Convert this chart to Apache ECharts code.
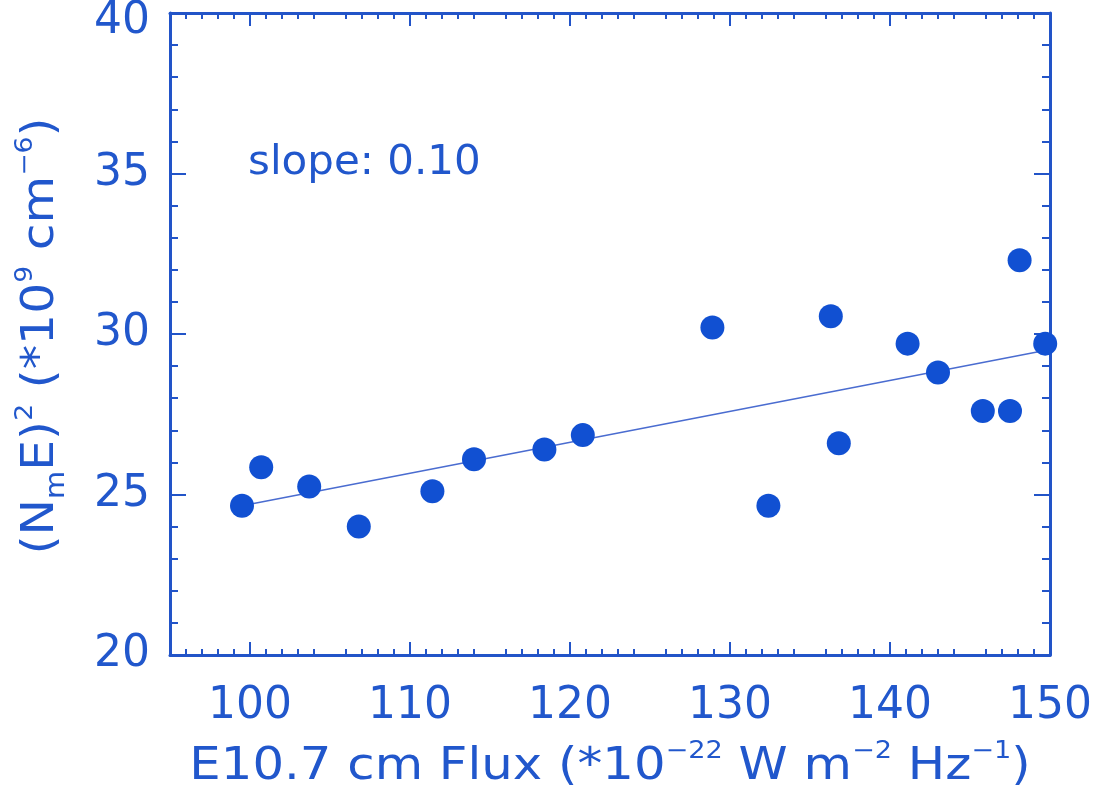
<!DOCTYPE html>
<html>
<head>
<meta charset="utf-8">
<title>NmE squared vs F10.7</title>
<script src="https://cdn.jsdelivr.net/npm/echarts@6/dist/echarts.min.js"></script>
<style>
  html, body { margin: 0; padding: 0; background: #fff; }
  #chart { width: 1094px; height: 796px; }
</style>
</head>
<body>
<div id="chart"></div>
<script>
const fluxX = [99.5, 100.7, 103.7, 106.8, 111.4, 114.0, 118.4, 120.8, 128.9, 132.4,
               136.3, 136.8, 141.1, 143.0, 145.8, 147.5, 148.1, 149.7];
const nmE2 = [24.65, 25.85, 25.25, 24.0, 25.1, 26.1, 26.4, 26.85, 30.2, 24.65,
              30.55, 26.6, 29.7, 28.8, 27.6, 27.6, 32.3, 29.7];
// fitted line end points
const fitX = [99.5, 150];
const fitY = [24.65, 29.52];
const xTickLabels = [100, 110, 120, 130, 140, 150];
const slopeText = 'slope: 0.10';
const xTitle = 'E10.7 cm Flux (*10{s|−22} W m{s|−2} Hz{s|−1})';
const yTitle = '(N{b|m}E){s|2} (*10{s|9} cm{s|−6})';

const blue = '#1150d2';
const axisBlue = '#2254c8';
const textBlue = '#2157cc';
const font = 'DejaVu Sans';

const points = fluxX.map((x, i) => [x, nmE2[i]]);
const fitLine = fitX.map((x, i) => [x, fitY[i]]);

// shared look of all four frame sides
function frameX(pos, showLabel) {
  return {
    type: 'value', position: pos, min: 95, max: 150, interval: 5,
    axisLine: { show: true, onZero: false, lineStyle: { color: axisBlue, width: 3 } },
    axisTick: { show: true, inside: true, length: 13, lineStyle: { color: axisBlue, width: 2 },
                customValues: xTickLabels },
    minorTick: { show: true, splitNumber: 5, length: 6, lineStyle: { color: axisBlue, width: 2 } },
    splitLine: { show: false },
    axisLabel: {
      show: showLabel, margin: 30, color: textBlue, fontSize: 44, fontFamily: font,
      customValues: xTickLabels
    }
  };
}
function frameY(pos, showLabel) {
  return {
    type: 'value', position: pos, min: 20, max: 40, interval: 5,
    axisLine: { show: true, onZero: false, lineStyle: { color: axisBlue, width: 3 } },
    axisTick: { show: true, inside: true, length: 16, lineStyle: { color: axisBlue, width: 2 } },
    minorTick: { show: true, splitNumber: 5, length: 8, lineStyle: { color: axisBlue, width: 2 } },
    splitLine: { show: false },
    axisLabel: {
      show: showLabel, margin: 20, color: textBlue, fontSize: 44, fontFamily: font,
      // top label sits a bit lower in the original
      formatter: v => (v === 40 ? '{top|40}' : String(v)),
      rich: { top: { padding: [18, 0, 0, 0], fontSize: 44, fontFamily: font, color: textBlue } }
    }
  };
}

const titleRich = {
  s: { fontSize: 24, fontFamily: font, fill: textBlue, verticalAlign: 'top', lineHeight: 56 },
  b: { fontSize: 26, fontFamily: font, fill: textBlue, verticalAlign: 'bottom', lineHeight: 56 }
};

const option = {
  backgroundColor: '#fff',
  animation: false,
  grid: { left: 170, right: 44, top: 13, bottom: 141, containLabel: false, outerBoundsMode: 'none' },
  xAxis: [frameX('bottom', true), frameX('top', false)],
  yAxis: [frameY('left', true), frameY('right', false)],
  graphic: [
    {
      type: 'text', x: 248, y: 164, scaleX: 1.05,
      style: { text: slopeText, fill: textBlue, font: '40px "DejaVu Sans"', verticalAlign: 'middle' }
    },
    {
      // x axis title, stretched a little like the original lettering
      type: 'text', x: 610, y: 768, scaleX: 1.13,
      style: {
        text: xTitle, fill: textBlue, fontSize: 44, fontFamily: font, lineHeight: 56,
        align: 'center', verticalAlign: 'middle', rich: titleRich
      }
    },
    {
      type: 'text', x: 42, y: 336, rotation: Math.PI / 2, scaleX: 1.11,
      style: {
        text: yTitle, fill: textBlue, fontSize: 44, fontFamily: font, lineHeight: 56,
        align: 'center', verticalAlign: 'middle', rich: titleRich
      }
    }
  ],
  series: [
    {
      type: 'line', data: fitLine, symbol: 'none', silent: true,
      lineStyle: { color: '#4a6cd0', width: 1.5 }, z: 2
    },
    {
      type: 'scatter', data: points, symbol: 'circle', symbolSize: 24,
      itemStyle: { color: blue, opacity: 1 }, z: 3
    }
  ]
};

const myChart = echarts.init(document.getElementById('chart'));
myChart.setOption(option);
</script>
</body>
</html>
